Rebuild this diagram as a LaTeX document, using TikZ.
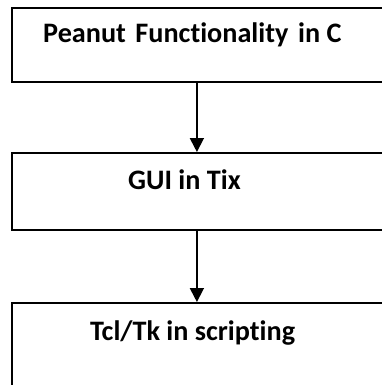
\documentclass[tikz,border=0pt]{standalone}
\usepackage{fontspec}
\setmainfont{Carlito}[RawFeature=-liga]
\usetikzlibrary{arrows.meta}
\tikzset{
    flow-box/.style = {draw=black, fill=white, line width=1.8pt, rectangle, anchor=north west, minimum width=376pt, inner sep=0pt},
    flow-text/.style = {anchor=base west, inner sep=0pt, font=\fontsize{28.2}{34}\selectfont\bfseries},
    flow-arrow/.style = {line width=1.8pt, -{Triangle[width=14pt,length=14pt]}},
}

\begin{document}
\begin{tikzpicture}[x=1pt,y=-1pt]
\useasboundingbox (0,0) rectangle (382,385);
\clip (0,0) rectangle (382,385);
% the three stages, top to bottom
\node[flow-box, minimum height=74pt] (peanut) at (11,7) {};
\node[flow-box, minimum height=77pt] (gui) at (11,152) {};
\node[flow-box, minimum height=100pt] (tcl) at (11,302) {};
\node[flow-text] (peanut-text) at (43,43) {Peanut\hspace{0.34em}Functionality\hspace{0.34em}in C};
\node[flow-text] (gui-text) at (128,189) {GUI in Tix};
\node[flow-text] (tcl-text) at (90,340) {Tcl/Tk in scripting};
% arrows down through the middle
\draw[flow-arrow] ([xshift=-3pt]peanut.south) -- ([xshift=-3pt]gui.north);
\draw[flow-arrow] ([xshift=-3pt]gui.south) -- ([xshift=-3pt]tcl.north);
\end{tikzpicture}
\end{document}
